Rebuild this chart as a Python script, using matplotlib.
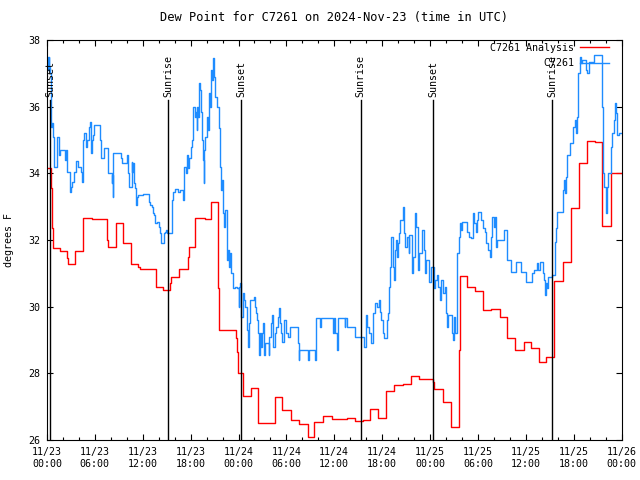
import matplotlib
matplotlib.use('Agg')
import matplotlib.pyplot as plt
import matplotlib.dates as mdates
import pandas as pd

start = pd.Timestamp('2024-11-23 00:00')

# analysis (red), hours after start and dew point in F
red_hours = [0, 0.54, 0.67, 0.75, 1.63, 2.55, 2.67, 3.55, 4.55, 5.68, 7.48, 7.6,
             8.6, 9.57, 10.57, 11.45, 11.61, 13.62, 14.49, 15.41, 15.54, 16.58,
             17.63, 17.79, 18.55, 19.8, 20.55, 21.47, 21.6, 23.68, 23.81, 23.89,
             23.98, 24.52, 25.56, 26.48, 28.57, 29.45, 30.58, 31.62, 32.75, 33.5,
             34.54, 35.67, 37.59, 38.55, 39.56, 40.52, 41.48, 42.52, 43.52, 44.57,
             45.57, 46.57, 48.37, 48.45, 49.62, 50.58, 50.67, 51.59, 51.71, 52.63,
             53.59, 54.64, 55.68, 56.72, 57.69, 58.69, 59.73, 60.61, 61.65, 62.57,
             63.53, 64.66, 65.62, 66.67, 67.71, 68.63, 69.59, 70.63, 72]
red_vals = [34.15, 33.55, 32.35, 31.75, 31.67, 31.47, 31.27, 31.67, 32.65, 32.62, 32.0, 31.78,
            32.5, 31.9, 31.27, 31.2, 31.12, 30.58, 30.5, 30.72, 30.9, 31.12,
            31.48, 31.78, 32.65, 32.62, 33.13, 30.55, 29.3, 29.05, 28.65, 28.25,
            28.0, 27.33, 27.57, 26.5, 27.3, 26.9, 26.6, 26.47, 26.08, 26.53,
            26.73, 26.63, 26.65, 26.57, 26.6, 26.92, 26.65, 27.47, 27.64, 27.68,
            27.92, 27.82, 27.75, 27.53, 27.13, 26.73, 26.4, 28.7, 30.92, 30.6,
            30.47, 29.9, 29.93, 29.7, 29.05, 28.7, 28.93, 28.75, 28.33, 28.48,
            30.78, 31.35, 32.95, 34.3, 34.97, 34.93, 32.43, 34.0, 34.0]

# station obs (blue)
blue_hours = [0.0, 0.1, 0.2, 0.3, 0.38, 0.46, 0.54, 0.67, 0.75, 0.88, 1.21, 1.29, 1.5, 1.63,
              2.21, 2.34, 2.55, 2.84, 2.97, 3.17, 3.38, 3.59, 3.88, 4.22, 4.34, 4.51, 4.55,
              4.64, 4.93, 5.05, 5.26, 5.39, 5.47, 5.6, 5.76, 5.89, 6.6, 6.72, 7.14, 7.69,
              8.1, 8.19, 8.27, 8.31, 9.31, 9.36, 9.98, 10.15, 10.27, 10.61, 10.69, 10.78,
              10.9, 10.99, 11.11, 11.24, 11.45,
              12.07, 12.78, 12.91, 13.12, 13.24, 13.45, 13.58, 13.83, 14.03, 14.16, 14.33,
              14.66, 14.79, 14.91, 14.99, 15.71, 15.83, 16.04, 16.46, 16.67, 17.08, 17.21,
              17.38, 17.5, 17.71, 17.84, 18.04, 18.13, 18.25, 18.34, 18.55, 18.67, 18.75,
              18.84, 18.96, 19.05, 19.17, 19.3, 19.42, 19.59, 19.65, 19.72, 19.84, 20.01,
              20.13, 20.34, 20.43, 20.55, 20.64, 20.76, 20.93, 21.09, 21.26, 21.51, 21.68,
              21.8, 21.93, 22.1, 22.22, 22.35, 22.51, 22.6, 22.72, 22.85, 22.93, 23.06,
              23.27, 23.56, 23.77, 24.02, 24.1,
              24.19, 24.27, 24.35, 24.52, 24.73, 24.85, 25.02, 25.15, 25.27, 25.44, 25.98,
              26.06, 26.19, 26.32, 26.48, 26.61, 26.69, 26.82, 26.94, 27.03, 27.15, 27.36,
              27.78, 27.86, 28.07, 28.2, 28.36, 28.57, 28.7, 28.91, 29.03, 29.16, 29.32,
              29.45, 29.74, 29.95, 30.16, 30.45, 31.45, 31.54, 31.62, 32.66, 32.87, 33.58,
              33.71, 34.21, 34.34, 35.84, 36.01,
              36.13, 36.34, 36.47, 37.3, 37.38, 37.59, 38.55, 39.68, 39.97, 40.14, 40.31,
              40.64, 40.81, 41.14, 41.35, 41.56, 41.77, 41.9, 42.06, 42.19, 42.56, 42.73,
              42.9, 43.02, 43.15, 43.32, 43.44, 43.57, 43.73, 43.86, 43.98, 44.15, 44.28,
              44.61, 44.74, 44.9, 45.11, 45.32, 45.4, 45.74, 45.86, 46.16, 46.28, 46.49,
              46.66, 46.99, 47.2, 47.33, 47.54,
              47.83, 48.08, 48.45, 48.66, 48.91, 49.0, 49.21, 49.42, 49.62, 49.83, 50.04,
              50.17, 50.25, 50.75, 50.88, 51.0, 51.17, 51.34, 51.42, 51.59, 51.71, 51.84,
              52.0, 52.67, 52.88, 53.17, 53.38, 53.51, 53.8, 53.93, 54.01, 54.43, 54.64,
              54.84, 55.05, 55.26, 55.47, 55.68, 55.81, 55.97, 56.18, 56.31, 56.39, 57.27,
              57.69, 58.1, 58.81, 59.36, 59.98,
              60.82, 61.03, 61.36, 61.53, 61.78, 62.15, 62.28, 62.36, 62.49, 62.61, 62.78,
              63.32, 63.62, 63.83, 63.95, 64.7, 64.79, 64.91, 65.04, 65.2, 65.54, 65.96,
              66.12, 66.25, 66.37, 66.54, 66.75, 66.88, 67.08, 67.5, 67.71, 67.92, 68.55,
              69.59, 69.72, 69.8, 70.01, 70.22, 70.3, 70.63, 70.84, 71.05, 71.18, 71.34,
              71.47, 71.68, 72]
blue_vals = [37.5, 37.1, 37.5, 37.2, 37.0, 36.0, 35.4, 35.5, 35.1, 34.2, 34.85, 35.1, 34.55, 34.7,
             34.4, 34.7, 34.05, 33.45, 33.6, 33.75, 34.05, 34.37, 34.2, 34.05, 33.75, 34.2, 35.0,
             35.2, 34.8, 35.0, 35.4, 35.55, 34.6, 35.0, 35.15, 35.45, 35.0, 34.45, 34.75, 34.02,
             33.7, 33.95, 33.3, 34.6, 34.45, 34.3, 34.55, 34.0, 33.6, 34.35, 34.05, 34.3,
             33.7, 33.55, 33.05, 33.3, 33.35,
             33.38, 33.15, 33.05, 33.0, 32.82, 32.75, 32.5, 32.53, 32.4, 32.2, 31.9,
             32.2, 32.25, 32.3, 32.2, 33.2, 33.45, 33.52, 33.45, 33.5, 33.2, 34.2,
             34.0, 34.55, 34.15, 34.45, 34.8, 35.0, 35.5, 36.0, 35.7, 35.85, 35.3,
             36.0, 35.7, 36.7, 36.5, 35.85, 35.0, 34.4, 33.7, 34.7, 35.1, 35.7,
             35.3, 36.4, 36.0, 37.1, 36.8, 37.45, 36.9, 36.3, 36.0, 35.35, 34.2,
             33.5, 33.8, 32.8, 32.4, 32.9, 32.2, 31.4, 31.7, 31.2, 31.6, 31.0,
             30.55, 30.6, 30.55, 30.0, 30.6,
             30.7, 30.2, 29.7, 30.4, 30.2, 30.0, 29.3, 28.8, 29.5, 30.2, 30.3,
             30.0, 29.8, 29.6, 29.2, 28.55, 29.2, 28.8, 29.2, 29.5, 28.55, 28.9,
             28.55, 29.1, 29.5, 29.75, 28.8, 29.2, 29.4, 29.7, 29.95, 29.5, 29.2,
             28.95, 29.6, 29.2, 29.1, 29.4, 28.9, 28.4, 28.7, 28.4, 28.7, 28.4,
             29.65, 29.4, 29.65, 29.2, 29.65,
             29.2, 28.7, 29.65, 29.4, 29.65, 29.4, 29.1, 28.8, 29.75, 29.4, 29.2,
             28.9, 29.8, 30.1, 30.0, 30.2, 29.85, 29.6, 29.2, 29.05, 29.6, 29.8,
             30.6, 31.2, 32.1, 31.2, 30.8, 31.7, 32.0, 31.5, 31.9, 32.2, 32.6,
             33.0, 32.2, 31.8, 32.1, 31.6, 32.15, 31.0, 31.5, 32.8, 32.4, 31.1,
             31.6, 32.3, 31.7, 31.0, 31.4,
             30.75, 31.2, 30.55, 30.8, 30.95, 30.6, 30.2, 30.8, 30.4, 30.6, 29.8,
             29.4, 29.75, 29.2, 29.0, 29.7, 29.2, 29.7, 31.6, 32.1, 32.5, 32.3,
             32.55, 32.25, 32.1, 32.05, 32.8, 32.5, 32.25, 32.6, 32.85, 32.6, 32.35,
             32.25, 31.9, 31.7, 31.5, 32.1, 32.7, 32.4, 32.7, 31.8, 32.0, 32.3,
             31.4, 31.05, 31.35, 31.05, 30.75,
             31.0, 31.1, 31.3, 31.1, 31.35, 31.0, 30.8, 30.35, 30.7, 30.55, 30.9,
             30.95, 31.95, 32.35, 32.85, 33.5, 33.8, 33.4, 33.9, 34.55, 34.9, 35.4,
             35.6, 35.2, 35.7, 37.0, 37.5, 37.3, 37.4, 37.1, 37.0, 37.35, 37.55,
             36.0, 34.0, 33.6, 32.8, 33.6, 34.0, 34.8, 35.2, 35.6, 36.1, 35.8,
             35.15, 35.2, 35.2]

sun_hours = [0.4, 15.2, 24.35, 39.3, 48.4, 63.35]
sun_labels = ['Sunset', 'Sunrise', 'Sunset', 'Sunrise', 'Sunset', 'Sunrise']

red_t = start + pd.to_timedelta(red_hours, unit='h')
blue_t = start + pd.to_timedelta(blue_hours, unit='h')
sun_t = start + pd.to_timedelta(sun_hours, unit='h')

plt.rcParams['font.family'] = 'DejaVu Sans Mono'
plt.rcParams['font.size'] = 7.2

fig = plt.figure(figsize=(6.4, 4.8), dpi=100)
ax = fig.add_axes([47 / 640, 40 / 480, 574.5 / 640, 400 / 480])

ax.plot(red_t, red_vals, color='#ff0000', lw=1.0, drawstyle='steps-post',
        label='C7261 Analysis')
ax.plot(blue_t, blue_vals, color='#1e8cff', lw=1.0, drawstyle='steps-post',
        label='         C7261')

for t, lab in zip(sun_t, sun_labels):
    ax.plot([t, t], [26, 36.2], color='black', lw=1.0)
    ax.text(t, 36.3, lab, rotation=90, ha='center', va='bottom')

ax.set_xlim(start, start + pd.Timedelta(hours=72))
ax.set_ylim(26, 38)
ax.set_yticks([26, 28, 30, 32, 34, 36, 38])
ax.xaxis.set_major_locator(mdates.HourLocator(byhour=[0, 6, 12, 18]))
ax.xaxis.set_minor_locator(mdates.HourLocator(byhour=range(0, 24, 2)))
ax.xaxis.set_major_formatter(mdates.DateFormatter('%m/%d\n%H:%M'))
ax.tick_params(which='both', direction='in', top=True, right=True)
ax.tick_params(which='major', length=4, width=0.8, pad=5)
ax.tick_params(which='minor', length=2.5, width=0.8)

ax.set_title('Dew Point for C7261 on 2024-Nov-23 (time in UTC)', pad=14)
ax.set_ylabel('degrees F', labelpad=10)

ax.legend(loc='upper right', bbox_to_anchor=(1 - 10 / 574.5, 1), frameon=False,
          markerfirst=False, handlelength=2.9, handletextpad=0.6, labelspacing=0.55,
          borderaxespad=0.2, borderpad=0.1)

fig.savefig('out.png', dpi=100)
